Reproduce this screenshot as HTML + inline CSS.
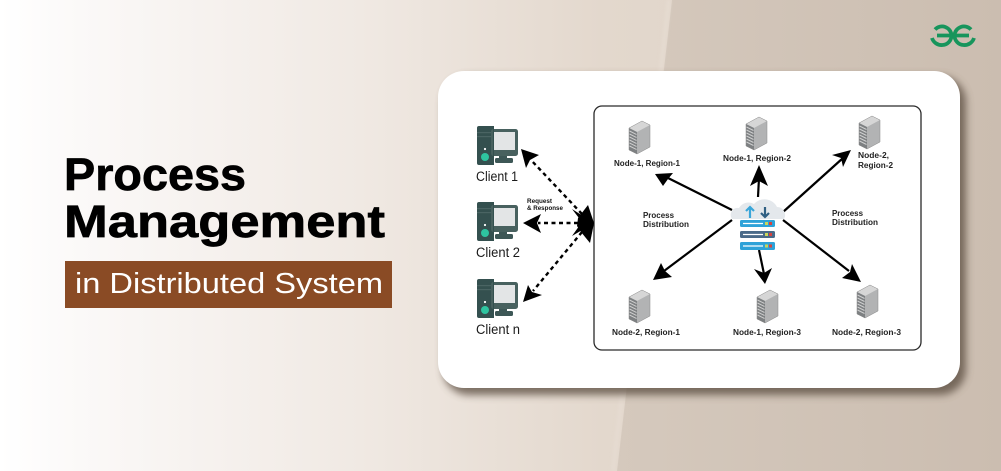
<!DOCTYPE html>
<html><head><meta charset="utf-8"><style>html,body{margin:0;padding:0;background:#fff}svg{display:block}text{font-family:"Liberation Sans",sans-serif}</style></head><body>
<svg width="1001" height="471" viewBox="0 0 1001 471" xmlns="http://www.w3.org/2000/svg">
<defs>
<linearGradient id="bg" x1="0" y1="0" x2="1" y2="0"><stop offset="0" stop-color="#fff"/><stop offset=".08" stop-color="#fbf9f8"/><stop offset=".36" stop-color="#f0e9e3"/><stop offset=".6" stop-color="#e3d8cd"/><stop offset="1" stop-color="#dccfc2"/></linearGradient>
<linearGradient id="bg2" x1="0" y1="0" x2="1" y2="0"><stop offset="0" stop-color="#d5c9bd"/><stop offset="1" stop-color="#cbbdb0"/></linearGradient>
<filter id="sh" x="-10%" y="-10%" width="125%" height="125%"><feGaussianBlur stdDeviation="4"/></filter>
<filter id="b2" x="-50%" y="-5%" width="200%" height="110%"><feGaussianBlur stdDeviation="1.500"/></filter>
<g id="pc">
<path d="M2 0h14v39h-14a2 2 0 0 1-2-2v-35a2 2 0 0 1 2-2z" fill="#34504f"/>
<rect x="0" y="6" width="16" height="1.200" fill="#4a6463"/><rect x="0" y="10" width="16" height="1.200" fill="#4a6463"/>
<rect x="14" y="3" width="27" height="27" rx="2.500" fill="#48615f"/><rect x="17" y="6" width="21" height="18" fill="#e3e5e6"/>
<rect x="16" y="0" width="1" height="39" fill="#34504f"/>
<rect x="22" y="30" width="8" height="3" fill="#3d5756"/>
<rect x="18" y="32" width="18" height="5" rx="1.500" fill="#3d5756"/>
<circle cx="8" cy="31" r="4" fill="#2ec4a0"/><circle cx="8" cy="23" r="1.100" fill="#fff"/>
</g>
<g id="srv">
<path d="M0 7L13 0L21 4V26L8 33L0 29Z" fill="#b2b3b4"/>
<path d="M0 7L13 0L21 4L8 11Z" fill="#d6d6d6"/>
<path d="M0 7L8 11V33L0 29Z" fill="#7d8082"/>
<path d="M0.500 10l7 3.500M0.500 13l7 3.500M0.500 16l7 3.500M0.500 19l7 3.500M0.500 22l7 3.500M0.500 25l7 3.500" stroke="#d0d0d0" stroke-width="1"/>
<path d="M0 7L13 0L21 4V26L8 33L0 29Z" fill="none" stroke="#8a8a8a" stroke-width=".5"/>
</g>
</defs>
<rect width="1001" height="471" fill="url(#bg)"/>
<path d="M672 0H1001V471H617Z" fill="url(#bg2)"/>
<path d="M669 0L613 471" stroke="#e6dcd2" stroke-width="3" fill="none" filter="url(#b2)"/>
<rect x="443" y="76" width="523" height="319" rx="26" fill="#5d4f42" opacity=".78" filter="url(#sh)"/>
<rect x="438" y="71" width="522" height="317" rx="26" fill="#fff"/>
<rect x="594" y="106" width="327" height="244" rx="8" fill="#fff" stroke="#2a2a2a" stroke-width="1.300"/>

<text x="64" y="190" font-size="45" font-weight="700" fill="#000" stroke="#000" stroke-width=".7" textLength="182" lengthAdjust="spacingAndGlyphs">Process</text>
<text x="64" y="237" font-size="45" font-weight="700" fill="#000" stroke="#000" stroke-width=".7" textLength="321" lengthAdjust="spacingAndGlyphs">Management</text>
<rect x="65" y="261" width="327" height="47" fill="#8a4b25"/>
<text x="75" y="293" font-size="29" fill="#fff" textLength="308" lengthAdjust="spacingAndGlyphs">in Distributed System</text>

<g fill="none" stroke="#17955c" stroke-width="3.800">
<path d="M935 29.500A9.500 9.500 0 0 1 951.500 35.500H937M951.500 35.500A9.500 9.500 0 0 1 942.500 45A10 10 0 0 1 932 38"/>
<path d="M971 29.500A9.500 9.500 0 0 0 954.500 35.500H969M954.500 35.500A9.500 9.500 0 0 0 963.500 45A10 10 0 0 0 974 38"/>
</g>

<use href="#pc" x="477" y="126"/>
<use href="#pc" x="477" y="202"/>
<use href="#pc" x="477" y="279"/>
<g font-size="13.500" fill="#1a1a1a">
<text x="476" y="181" textLength="42" lengthAdjust="spacingAndGlyphs">Client 1</text>
<text x="476" y="257" textLength="44" lengthAdjust="spacingAndGlyphs">Client 2</text>
<text x="476" y="334" textLength="44" lengthAdjust="spacingAndGlyphs">Client n</text>
</g>
<g font-size="6" font-weight="700" fill="#111">
<text x="527" y="203" textLength="25" lengthAdjust="spacingAndGlyphs">Request</text>
<text x="527" y="210" textLength="36" lengthAdjust="spacingAndGlyphs">&amp; Response</text>
</g>

<g fill="none" stroke="#000" stroke-width="2.400" stroke-dasharray="4 3.500">
<line x1="582" y1="214" x2="531" y2="160"/>
<line x1="578" y1="223" x2="538" y2="223"/>
<line x1="582" y1="232" x2="533" y2="291"/>
</g>
<g fill="#000">
<path d="M521 149L539 155L530 160L526 168Z"/>
<path d="M523 223L541 214L537 223L541 233Z"/>
<path d="M523 302L528 285L532 292L542 295Z"/>
<path d="M594 223L588 205L578 218L577 226L581 232L590 243Z"/>
<path d="M594 223L572 209L582 222L572 236Z"/>
</g>

<g stroke="#000" stroke-width="2.200" fill="none">
<line x1="732" y1="210" x2="668" y2="178"/>
<line x1="758" y1="197" x2="759" y2="178"/>
<line x1="783" y1="212" x2="843" y2="158"/>
<line x1="732" y1="220" x2="664" y2="271"/>
<line x1="759" y1="250" x2="764" y2="274"/>
<line x1="783" y1="220" x2="849" y2="271"/>
</g>
<g fill="#000">
<path d="M655 174L673 173L668 179L663 186Z"/>
<path d="M759 165L768 186L759 181L750 186Z"/>
<path d="M851 150L843 167L841 158L832 155Z"/>
<path d="M653 280L661 263L665 271L672 277Z"/>
<path d="M765 284L754 269L764 273L772 268Z"/>
<path d="M861 282L842 278L850 272L852 264Z"/>
</g>

<g>
<path d="M732 219a7 7 0 0 1 7-11a11 11 0 0 1 15-4a14 14 0 0 1 23 3a8 8 0 0 1 7 12Z" fill="#e4e8ec"/>
<path d="M750 218v-10M746 211l4-4 4 4" stroke="#3aa6d9" stroke-width="2.200" fill="none"/>
<path d="M765 207v10M761 213l4 4 4-4" stroke="#2f5f82" stroke-width="2.200" fill="none"/>
<rect x="740" y="220" width="35" height="7" rx="1.500" fill="#2ea2d8"/>
<rect x="740" y="231" width="35" height="7" rx="1.500" fill="#4a6a88"/>
<rect x="740" y="242" width="35" height="8" rx="1.500" fill="#2ea2d8"/>
<path d="M743 223.500h20M743 234.500h20M743 246h20" stroke="#fff" stroke-width="1.300"/>
<path d="M765 222h3v3h-3zM765 233h3v3h-3zM765 244.500h3v3h-3z" fill="#c9d65a"/>
<path d="M769 222h3v3h-3zM769 233h3v3h-3zM769 244.500h3v3h-3z" fill="#d8433e"/>
</g>

<use href="#srv" x="629" y="121"/>
<use href="#srv" x="746" y="117"/>
<use href="#srv" x="859" y="116"/>
<use href="#srv" x="629" y="290"/>
<use href="#srv" x="757" y="290"/>
<use href="#srv" x="857" y="285"/>

<g font-size="8" font-weight="700" fill="#222">
<text x="614" y="166" textLength="66" lengthAdjust="spacingAndGlyphs">Node-1, Region-1</text>
<text x="723" y="161" textLength="68" lengthAdjust="spacingAndGlyphs">Node-1, Region-2</text>
<text x="858" y="158" textLength="31" lengthAdjust="spacingAndGlyphs">Node-2,</text>
<text x="858" y="168" textLength="35" lengthAdjust="spacingAndGlyphs">Region-2</text>
<text x="612" y="335" textLength="68" lengthAdjust="spacingAndGlyphs">Node-2, Region-1</text>
<text x="733" y="335" textLength="68" lengthAdjust="spacingAndGlyphs">Node-1, Region-3</text>
<text x="832" y="335" textLength="69" lengthAdjust="spacingAndGlyphs">Node-2, Region-3</text>
<text x="643" y="218" textLength="31" lengthAdjust="spacingAndGlyphs">Process</text>
<text x="643" y="227" textLength="46" lengthAdjust="spacingAndGlyphs">Distribution</text>
<text x="832" y="216" textLength="31" lengthAdjust="spacingAndGlyphs">Process</text>
<text x="832" y="225" textLength="46" lengthAdjust="spacingAndGlyphs">Distribution</text>
</g>
</svg>
</body></html>
